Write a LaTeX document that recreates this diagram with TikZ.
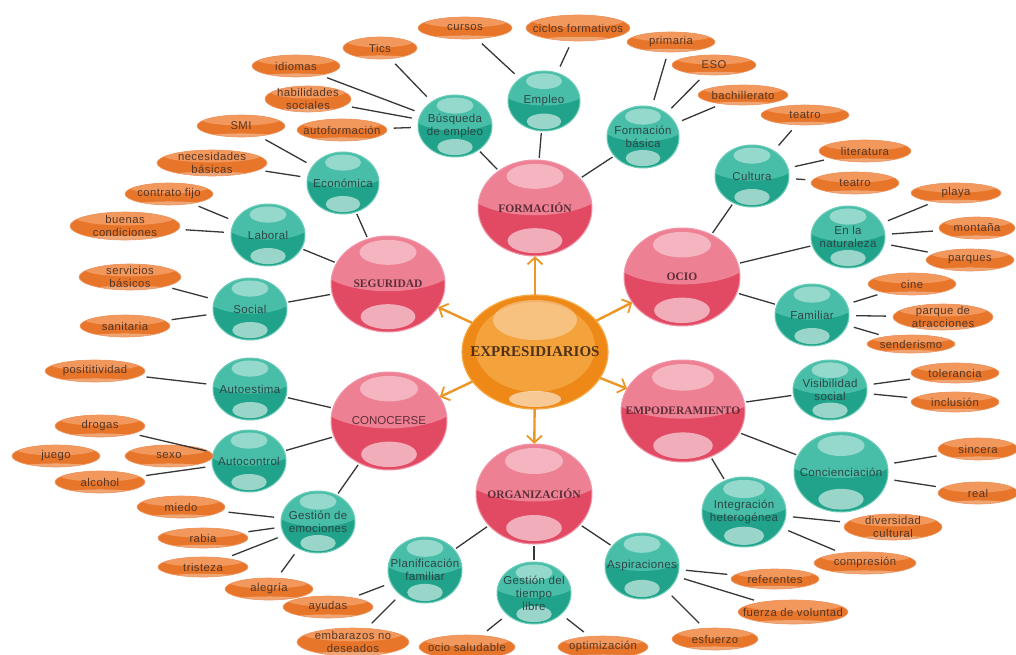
\documentclass[tikz,border=0pt]{standalone}
\usepackage{fontspec}
\setmainfont{Liberation Serif}
\newfontfamily\lsans{Liberation Sans}
\newfontfamily\tsans[LetterSpace=3]{Liberation Sans}
\newfontfamily\lsansB[LetterSpace=4]{Liberation Sans}
\usetikzlibrary{arrows.meta,shapes.geometric,calc}

\definecolor{rbase}{RGB}{226,74,100}
\definecolor{rlight}{RGB}{238,128,148}
\definecolor{redge}{RGB}{240,150,168}
\definecolor{rtext}{RGB}{95,45,55}
\definecolor{tbase}{RGB}{32,163,138}
\definecolor{tlight}{RGB}{72,190,168}
\definecolor{tedge}{RGB}{110,205,185}
\definecolor{ttext}{RGB}{45,70,70}
\definecolor{obase}{RGB}{238,136,22}
\definecolor{olight}{RGB}{244,162,60}
\definecolor{oedge}{RGB}{246,170,70}
\definecolor{ctext}{RGB}{80,50,25}
\definecolor{lbase}{RGB}{232,118,42}
\definecolor{llight}{RGB}{242,152,92}
\definecolor{ledge}{RGB}{238,150,100}
\definecolor{ltext}{RGB}{85,55,40}
\definecolor{lgray}{RGB}{55,55,55}
\definecolor{aorange}{RGB}{236,150,38}

\tikzset{
  conn/.style={draw=lgray, line width=1.3pt, shorten >=7pt, shorten <=7pt},
  connm/.style={draw=lgray, line width=1.3pt, shorten >=2pt, shorten <=2pt},
  arr/.style={draw=aorange, line width=2.4pt, -{Straight Barb[length=7pt,width=15pt,line width=1.8pt]}},
  redtxt/.style={font=\fontsize{11.5}{13}\selectfont\bfseries, text=rtext},
  redsans/.style={font=\lsans\fontsize{11.5}{13}\selectfont, text=rtext},
  ctxt/.style={font=\fontsize{15}{17}\selectfont\bfseries, text=ctext},
  ttxt/.style={font=\tsans\fontsize{11.5}{13}\selectfont, text=ttext},
  ltxt/.style={font=\lsansB\fontsize{11.3}{12.3}\selectfont, text=ltext},
}

% glassy ball: name, x, y, rx, ry, colour prefix, text style, text
\newcommand\gball[8]{%
  \begin{scope}[shift={(#2,#3)}]
    \fill[#6base] (0,0) ellipse [x radius=#4, y radius=#5];
    \begin{scope}
      \clip (0,0) ellipse [x radius=#4, y radius=#5];
      \fill[#6light] (0,-0.45*#5) ellipse [x radius=1.25*#4, y radius=0.6*#5];
      \fill[white,opacity=.42] (0,-0.66*#5) ellipse [x radius=0.5*#4, y radius=0.26*#5];
      \fill[white,opacity=.55] (0,0.68*#5) ellipse [x radius=0.48*#4, y radius=0.26*#5];
    \end{scope}
    \draw[#6edge, line width=1] (0,0) ellipse [x radius=#4, y radius=#5];
  \end{scope}
  \node[ellipse, minimum width=2*#4, minimum height=2*#5, inner sep=0pt] (#1) at (#2,#3) {};
  \node[align=center, #7] at (#1) {#8};
}
% leaf: name, x, y, rx, ry, text
\newcommand\gleaf[6]{%
  \begin{scope}[shift={(#2,#3)}]
    \fill[lbase] (0,0) ellipse [x radius=#4, y radius=#5];
    \begin{scope}
      \clip (0,0) ellipse [x radius=#4, y radius=#5];
      \fill[llight] (0,-0.6*#5) ellipse [x radius=0.9*#4, y radius=0.55*#5];
      \fill[white,opacity=.35] (0,0.98*#5) ellipse [x radius=0.85*#4, y radius=0.3*#5];
    \end{scope}
    \draw[ledge, line width=.6] (0,0) ellipse [x radius=#4, y radius=#5];
  \end{scope}
  \node[ellipse, minimum width=2*#4, minimum height=2*#5, inner sep=0pt] (#1) at (#2,#3) {};
  \node[align=center, ltxt] at (#1) {#6};
}

\begin{document}
\begin{tikzpicture}[x=1pt,y=-1pt]
\fill[white] (0,0) rectangle (1016,655);
\useasboundingbox (0,0) rectangle (1016,655);

% centre
\begin{scope}[shift={(535,352)}]
  \fill[obase] (0,0) ellipse [x radius=73, y radius=57];
  \begin{scope}
    \clip (0,0) ellipse [x radius=73, y radius=57];
    \fill[olight] (0,-5) ellipse [x radius=60, y radius=45];
    \fill[white,opacity=.35] (0,-32) ellipse [x radius=42, y radius=20];
    \fill[white,opacity=.55] (0,47) ellipse [x radius=26, y radius=8];
  \end{scope}
  \draw[oedge, line width=1.2] (0,0) ellipse [x radius=73, y radius=57];
\end{scope}
\node[ellipse, minimum width=146, minimum height=114, inner sep=0pt] (cen) at (535,352) {};
\node[ctxt] at (cen) {EXPRESIDIARIOS};

% main balls
\gball{form}{535}{208}{57}{48}{r}{redtxt}{FORMACIÓN}
\gball{seg}{388}{284}{57}{48}{r}{redtxt}{SEGURIDAD}
\gball{ocio}{682}{277}{58}{49}{r}{redtxt}{OCIO}
\gball{cono}{389}{421}{58}{49}{r}{redsans}{CONOCERSE}
\gball{empo}{683}{411}{62}{51}{r}{redtxt}{EMPODERAMIENTO}
\gball{orga}{534}{494}{58}{50}{r}{redtxt}{ORGANIZACIÓN}

% sub balls
\gball{busq}{455}{126}{37}{31}{t}{ttxt}{Búsqueda\\de empleo}
\gball{empl}{544}{101}{36}{30}{t}{ttxt}{Empleo}
\gball{fbas}{643}{137}{36}{31}{t}{ttxt}{Formación\\básica}
\gball{cult}{752}{176}{37}{31}{t}{ttxt}{Cultura}
\gball{natu}{848}{237}{37}{31}{t}{ttxt}{En la\\naturaleza}
\gball{fami}{812}{315}{37}{31}{t}{ttxt}{Familiar}
\gball{econ}{343}{183}{36}{31}{t}{ttxt}{Económica}
\gball{labo}{268}{235}{37}{31}{t}{ttxt}{Laboral}
\gball{soci}{250}{309}{37}{31}{t}{ttxt}{Social}
\gball{aest}{250}{389}{37}{31}{t}{ttxt}{Autoestima}
\gball{acon}{249}{461}{37}{31}{t}{ttxt}{Autocontrol}
\gball{gemo}{318}{522}{37}{31}{t}{ttxt}{Gestión de\\emociones}
\gball{plan}{425}{570}{37}{33}{t}{ttxt}{Planificación\\familiar}
\gball{gtie}{534}{593}{37}{31}{t}{ttxt}{Gestión del\\tiempo\\libre}
\gball{aspi}{642}{566}{37}{33}{t}{ttxt}{Aspiraciones}
\gball{visi}{830}{390}{37}{30}{t}{ttxt}{Visibilidad\\social}
\gball{conc}{841}{472}{47}{40}{t}{ttxt}{Concienciación}
\gball{inte}{744}{512}{42}{35}{t}{ttxt}{Integración\\heterogénea}

% leaves
\gleaf{cursos}{465}{28}{47}{11}{cursos}
\gleaf{ciclos}{578}{28}{52}{13}{ciclos formativos}
\gleaf{primaria}{671}{42}{44}{10}{primaria}
\gleaf{eso}{714}{65}{42}{10}{ESO}
\gleaf{bach}{743}{95}{45}{10}{bachillerato}
\gleaf{tics}{380}{48}{37}{11}{Tics}
\gleaf{idiomas}{296}{66}{44}{11}{idiomas}
\gleaf{habil}{308}{99}{43}{13}{habilidades\\sociales}
\gleaf{autof}{342}{130}{45}{11}{autoformación}
\gleaf{smi}{241}{126}{44}{11}{SMI}
\gleaf{neces}{212}{163}{55}{13}{necesidades\\básicas}
\gleaf{contrato}{169}{194}{44}{11}{contrato fijo}
\gleaf{buenas}{125}{226}{55}{14}{buenas\\condiciones}
\gleaf{servicios}{130}{277}{51}{13}{servicios\\básicos}
\gleaf{sanitaria}{125}{326}{45}{11}{sanitaria}
\gleaf{posit}{95}{371}{50}{11}{posititividad}
\gleaf{drogas}{100}{426}{45}{11}{drogas}
\gleaf{juego}{56}{456}{44}{11}{juego}
\gleaf{sexo}{169}{456}{44}{11}{sexo}
\gleaf{alcohol}{100}{482}{45}{11}{alcohol}
\gleaf{miedo}{181}{507}{44}{11}{miedo}
\gleaf{rabia}{203}{538}{45}{10}{rabia}
\gleaf{tristeza}{203}{567}{45}{10}{tristeza}
\gleaf{alegria}{269}{589}{44}{11}{alegría}
\gleaf{ayudas}{328}{607}{45}{11}{ayudas}
\gleaf{embarazos}{353}{642}{56}{14}{embarazos no\\deseados}
\gleaf{ociosal}{467}{647}{48}{12}{ocio saludable}
\gleaf{optim}{603}{647}{45}{11}{optimización}
\gleaf{esfuerzo}{715}{639}{43}{11}{esfuerzo}
\gleaf{fuerza}{793}{612}{55}{12}{fuerza de voluntad}
\gleaf{referentes}{775}{579}{44}{10}{referentes}
\gleaf{compresion}{865}{563}{51}{11}{compresión}
\gleaf{divers}{893}{527}{49}{13}{diversidad\\cultural}
\gleaf{sincera}{978}{449}{40}{11}{sincera}
\gleaf{real}{978}{493}{40}{11}{real}
\gleaf{tolerancia}{955}{373}{44}{10}{tolerancia}
\gleaf{inclusion}{955}{402}{44}{10}{inclusión}
\gleaf{senderismo}{911}{344}{44}{9}{senderismo}
\gleaf{cine}{912}{284}{44}{11}{cine}
\gleaf{parque}{943}{317}{50}{13}{parque de\\atracciones}
\gleaf{playa}{956}{193}{45}{10}{playa}
\gleaf{montana}{977}{228}{38}{11}{montaña}
\gleaf{parques}{970}{260}{44}{11}{parques}
\gleaf{literatura}{865}{151}{46}{11}{literatura}
\gleaf{teatroB}{855}{183}{44}{11}{teatro}
\gleaf{teatroA}{805}{115}{44}{10}{teatro}

% arrows
\foreach \t in {form,seg,ocio,cono,empo,orga}
  \draw[arr] (cen) -- (\t);

% connectors main -> sub
\foreach \a/\b in {form/busq,form/empl,form/fbas,
  seg/econ,seg/labo,seg/soci,
  ocio/cult,ocio/natu,ocio/fami,
  cono/aest,cono/acon,cono/gemo,
  orga/plan,orga/gtie,orga/aspi,
  empo/visi,empo/conc,empo/inte}
  \draw[connm] (\a) -- (\b);

% connectors sub -> leaf
\foreach \a/\b in {
  busq/tics,busq/idiomas,busq/habil,busq/autof,
  empl/cursos,empl/ciclos,
  fbas/primaria,fbas/eso,fbas/bach,
  econ/smi,econ/neces,labo/contrato,labo/buenas,soci/servicios,soci/sanitaria,
  cult/teatroA,cult/literatura,cult/teatroB,
  natu/playa,natu/montana,natu/parques,
  fami/cine,fami/parque,fami/senderismo,
  aest/posit,acon/drogas,acon/alcohol,
  gemo/miedo,gemo/rabia,gemo/tristeza,gemo/alegria,
  plan/ayudas,plan/embarazos,gtie/ociosal,gtie/optim,
  aspi/referentes,aspi/fuerza,aspi/esfuerzo,
  visi/tolerancia,visi/inclusion,conc/sincera,conc/real,
  inte/divers,inte/compresion}
  \draw[conn] (\a) -- (\b);
\end{tikzpicture}
\end{document}
